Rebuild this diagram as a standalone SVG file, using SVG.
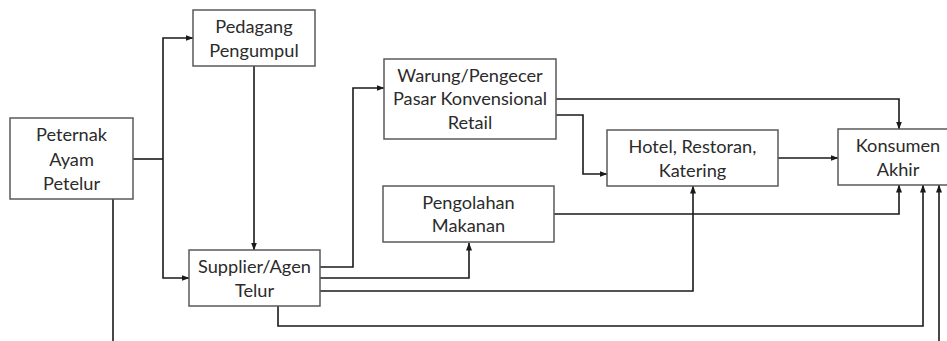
<svg xmlns="http://www.w3.org/2000/svg" width="947" height="341" viewBox="0 0 947 341">
<defs>
<style>
.box{fill:#fff;stroke:#595959;stroke-width:1.5}
.t{font-family:Lato,"Liberation Sans",sans-serif;font-size:18.2px;fill:#2b2b2b;text-anchor:middle}
.c{fill:none;stroke:#1a1a1a;stroke-width:1.6}
</style>
<marker id="ah" markerUnits="userSpaceOnUse" markerWidth="8" markerHeight="8" viewBox="0 0 8 8" refX="7.5" refY="4" orient="auto">
<path d="M0,1 L8,4 L0,7 Z" fill="#1a1a1a"/>
</marker>
</defs>
<rect width="947" height="341" fill="#fff"/>
<g id="connectors">
<path class="c" d="M132,159 H163"/>
<path class="c" d="M163,159 V38 H193" marker-end="url(#ah)"/>
<path class="c" d="M163,159 V278 H189" marker-end="url(#ah)"/>
<path class="c" d="M254,66 V250" marker-end="url(#ah)"/>
<path class="c" d="M113,199 V341"/>
<path class="c" d="M320,267 H353 V88 H384" marker-end="url(#ah)"/>
<path class="c" d="M320,278 H469 V243" marker-end="url(#ah)"/>
<path class="c" d="M320,291 H693 V186" marker-end="url(#ah)"/>
<path class="c" d="M278,306 V326 H923 V185" marker-end="url(#ah)"/>
<path class="c" d="M939,341 V185" marker-end="url(#ah)"/>
<path class="c" d="M556,99 H899 V129" marker-end="url(#ah)"/>
<path class="c" d="M556,115 H583 V174 H607" marker-end="url(#ah)"/>
<path class="c" d="M778,158 H838" marker-end="url(#ah)"/>
<path class="c" d="M554,214 H899 V185" marker-end="url(#ah)"/>
</g>
<g id="peternak">
<rect class="box" x="10" y="118" width="123" height="81"/>
<text class="t" x="71.5" y="141">Peternak</text>
<text class="t" x="71.5" y="165.5">Ayam</text>
<text class="t" x="71.5" y="189.5">Petelur</text>
</g>
<g id="pedagang">
<rect class="box" x="193" y="10" width="122" height="56"/>
<text class="t" x="254" y="33">Pedagang</text>
<text class="t" x="254" y="57">Pengumpul</text>
</g>
<g id="supplier">
<rect class="box" x="189" y="250" width="131" height="56"/>
<text class="t" x="254.5" y="272.5">Supplier/Agen</text>
<text class="t" x="254.5" y="296.5">Telur</text>
</g>
<g id="warung">
<rect class="box" x="384" y="59" width="172" height="80"/>
<text class="t" x="470" y="81.5">Warung/Pengecer</text>
<text class="t" x="470" y="105">Pasar Konvensional</text>
<text class="t" x="470" y="128.5">Retail</text>
</g>
<g id="pengolahan">
<rect class="box" x="383" y="186" width="171" height="56"/>
<text class="t" x="468.5" y="208.5">Pengolahan</text>
<text class="t" x="468.5" y="232">Makanan</text>
</g>
<g id="hotel">
<rect class="box" x="607" y="130" width="171" height="56"/>
<text class="t" x="692.5" y="153">Hotel, Restoran,</text>
<text class="t" x="692.5" y="177">Katering</text>
</g>
<g id="konsumen">
<rect class="box" x="838" y="129" width="120" height="56"/>
<text class="t" x="898" y="152">Konsumen</text>
<text class="t" x="898" y="176">Akhir</text>
</g>
</svg>
